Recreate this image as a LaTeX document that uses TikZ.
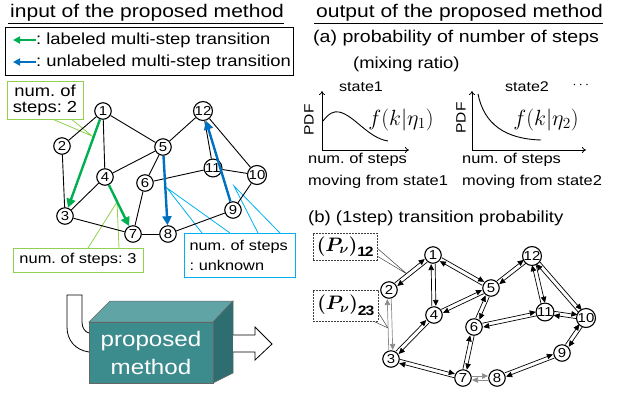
\documentclass[tikz,border=0pt]{standalone}
\usepackage{fix-cm}
\usepackage{fontspec}
\setmainfont{Liberation Sans}[FakeStretch=1.15]
\usepackage{amsmath}
\usepackage{bm}
\usetikzlibrary{arrows.meta,calc,positioning}
\definecolor{lblgreen}{RGB}{0,176,80}
\definecolor{ulbblue}{RGB}{0,112,192}
\definecolor{callgreen}{RGB}{146,208,80}
\definecolor{callblue}{RGB}{0,176,240}
\definecolor{pmfront}{RGB}{60,139,141}
\definecolor{pmtop}{RGB}{96,164,166}
\definecolor{pmside}{RGB}{46,110,112}
\newcommand{\txtsize}[1]{\fontsize{#1}{#1}\selectfont}
\frenchspacing

\begin{document}
\begin{tikzpicture}[x=1pt, y=-1pt,
    stnode/.style={circle, draw, line width=1.1pt, fill=white, inner sep=0pt, minimum size=16.5pt, font=\txtsize{13}},
    gedge/.style={line width=0.9pt},
    rail/.style={line width=0.7pt, -{Triangle[length=6pt, width=5.5pt]}},
    garrow/.style={draw=lblgreen, line width=2.4pt, -{Triangle[length=9pt, width=9pt]}},
    barrow/.style={draw=ulbblue, line width=2.4pt, -{Triangle[length=9pt, width=9pt]}},
    gcall/.style={draw=callgreen, line width=0.8pt, fill=white},
    bcall/.style={draw=callblue, line width=0.8pt, fill=white},
    pcall/.style={draw=black!75, dash pattern=on 2pt off 1pt, line width=0.6pt, fill=white},
    pdfaxis/.style={line width=0.8pt, -{To[length=4pt, width=6pt]}}
  ]
  \useasboundingbox (0,0) rectangle (618,392);

  % input of the proposed method
  \node[anchor=base west, inner sep=0pt, font=\txtsize{18.3}] (tin) at (10,17.5) {input of the proposed method};
  \draw[line width=0.9pt] ($(tin.base west)+(-2,5.5)$) -- ($(tin.base east)+(0,5.5)$);
  \draw[line width=1pt] (5,27) rectangle (293,75);
  \node[anchor=west, inner sep=0pt, font=\txtsize{16}] (lgg) at (36,40) {: labeled multi-step transition};
  \node[anchor=west, inner sep=0pt, font=\txtsize{16}] (lgb) at (36,62) {: unlabeled multi-step transition};
  \coordinate (lggend) at (13,40);
  \coordinate (lgbend) at (13,62);
  \draw[lblgreen, line width=2.2pt, -{Triangle[length=7pt, width=7pt]}] (lgg.west) -- (lggend);
  \draw[ulbblue, line width=2.2pt, -{Triangle[length=7pt, width=7pt]}] (lgb.west) -- (lgbend);

  % callouts
  \draw[callgreen, line width=0.8pt] (50,118) -- (92,136) -- (70,118);
  \node[gcall, minimum width=76pt, minimum height=35pt, align=center, font=\txtsize{16}] (cs2) at (45,100.5) {num. of\\steps: 2};
  \draw[callgreen, line width=0.8pt] (88,248) -- (117,202) -- (119,248);
  \node[gcall, minimum width=130pt, minimum height=24pt, font=\txtsize{14.3}] (cs3) at (78,260) {num. of steps: 3};
  \draw[callblue, line width=0.8pt] (202,233) -- (167,188) -- (230,233);
  \draw[callblue, line width=0.8pt] (258,233) -- (234,186) -- (280,233);
  \node[bcall, minimum width=111pt, minimum height=44pt, align=left, text width=100pt, font=\txtsize{14.2}] (csu) at (239.5,255) {num. of steps\\[5.8pt]: unknown};

  % input graph
  \node[stnode] (l1) at (103,111) {1};
  \node[stnode] (l2) at (62,146) {2};
  \node[stnode] (l3) at (65,216) {3};
  \node[stnode] (l4) at (105,177) {4};
  \node[stnode] (l5) at (163,147) {5};
  \node[stnode] (l6) at (145,183) {6};
  \node[stnode] (l7) at (133,234) {7};
  \node[stnode] (l8) at (168,234) {8};
  \node[stnode] (l9) at (233,210) {9};
  \node[stnode] (l10) at (257,175) {10};
  \node[stnode] (l11) at (213,168) {11};
  \node[stnode] (l12) at (203,111) {12};
  \foreach \a/\b in {1/2,1/4,1/5,2/3,3/4,3/7,4/5,5/6,5/12,6/7,6/11,7/8,8/9,9/10,10/11,10/12,11/12}
    \draw[gedge] (l\a) -- (l\b);
  \draw[garrow] (l1) -- (l3);
  \draw[garrow] (l4) -- (l7);
  \draw[barrow] (l5) -- (l8);
  \draw[barrow] (l9) -- (l12);

  % proposed method block
  \draw[line width=0.8pt, fill=white] (89,352) .. controls (75,350) and (67,340) .. (67,327) -- (67,295) -- (82,295) -- (82,322) .. controls (82,328) and (85,332) .. (89,333);
  \fill[pmtop, draw=black!60, line width=0.5pt] (89,322) -- (110,301) -- (233,301) -- (213,322) -- cycle;
  \fill[pmside, draw=black!60, line width=0.5pt] (213,322) -- (233,301) -- (233,373) -- (213,383) -- cycle;
  \node[draw=black!60, line width=0.5pt, fill=pmfront, minimum width=124pt, minimum height=61pt, align=center, text=white, font=\txtsize{21}] (pm) at (151,352.5) {proposed\\[7pt]method};
  \draw[line width=0.8pt, fill=white] (233,335) -- (255,335) -- (255,327) -- (272,344) -- (255,360) -- (255,352) -- (233,352);

  % output of the proposed method
  \node[anchor=base west, inner sep=0pt, font=\txtsize{18.3}] (tout) at (316,17.5) {output of the proposed method};
  \draw[line width=0.9pt] ($(tout.base west)+(-2,5.5)$) -- ($(tout.base east)+(0,5.5)$);
  \node[anchor=west, inner sep=0pt, font=\txtsize{17}] (qa) at (313,38) {(a) probability of number of steps};
  \node[anchor=west, inner sep=0pt, font=\txtsize{16}] (qmix) at (353,64) {(mixing ratio)};

  % (a) plots
  \node[font=\txtsize{14}] (st1) at (361,87) {state1};
  \node[font=\txtsize{14}] (st2) at (527,87) {state2};
  \node[font=\txtsize{14}] (stdots) at (582,85) {$\cdots$};
  \draw[pdfaxis] (322,150) -- (322,91);
  \draw[pdfaxis] (322,150) -- (409,150);
  \draw[pdfaxis] (472,150) -- (472,91);
  \draw[pdfaxis] (472,150) -- (586,150);
  \draw[line width=0.9pt] (323,121) .. controls (329,113) and (334,111) .. (339,112) .. controls (354,115) and (368,138) .. (388,141);
  \draw[line width=0.9pt] (478,94) .. controls (484,124) and (505,139) .. (541,140);
  \node[rotate=90, font=\txtsize{13.5}] (pdf1) at (309,120) {PDF};
  \node[rotate=90, font=\txtsize{13.5}] (pdf2) at (461,118) {PDF};
  \node[font=\txtsize{22}] (f1) at (401,120) {$f(k|\eta_1)$};
  \node[font=\txtsize{22}] (f2) at (546,120) {$f(k|\eta_2)$};
  \node[anchor=west, align=left, inner sep=0pt, font=\txtsize{14.3}] (xl1) at (308,171) {num. of steps\\[7.7pt]moving from state1};
  \node[anchor=west, align=left, inner sep=0pt, font=\txtsize{14.3}] (xl2) at (462,171) {num. of steps\\[7.7pt]moving from state2};

  % (b) transition probability
  \node[anchor=west, inner sep=0pt, font=\txtsize{16.1}] (qb) at (308,218) {(b) (1step) transition probability};
  \draw[black!75, line width=0.5pt] (377,248) -- (407,274) -- (377,256);
  \node[pcall, minimum width=64pt, minimum height=27pt, inner sep=1pt, font=\txtsize{19.5}] (p12) at (345,246.5) {$\bm{(}\bm{P}_{\bm{\nu}}\bm{)}_{\mathbf{12}}$};
  \draw[black!75, line width=0.5pt] (378,312) -- (388,328) -- (373,321);
  \node[pcall, minimum width=65pt, minimum height=31pt, inner sep=1pt, font=\txtsize{19.5}] (p23) at (345.5,305.5) {$\bm{(}\bm{P}_{\bm{\nu}}\bm{)}_{\mathbf{23}}$};
  \node[stnode] (r1) at (433,255) {1};
  \node[stnode] (r2) at (389,290) {2};
  \node[stnode] (r3) at (391,359) {3};
  \node[stnode] (r4) at (434,315) {4};
  \node[stnode] (r5) at (491,288) {5};
  \node[stnode] (r6) at (474,327) {6};
  \node[stnode] (r7) at (463,378) {7};
  \node[stnode] (r8) at (497,378) {8};
  \node[stnode] (r9) at (562,353) {9};
  \node[stnode] (r10) at (586,318) {10};
  \node[stnode] (r11) at (545,312) {11};
  \node[stnode] (r12) at (532,256) {12};
  \foreach \a/\b/\c in {1/2/black,1/4/black,1/5/black,2/3/black!45,3/4/black,3/7/black,4/5/black,5/6/black,5/12/black,6/7/black,6/11/black,7/8/black!45,8/9/black,9/10/black,10/11/black,10/12/black,11/12/black}{
    \path ($(r\a)!9pt!(r\b)$) coordinate (ra) ($(r\b)!9pt!(r\a)$) coordinate (rb);
    \draw[rail, \c] ($(ra)!2pt!90:(rb)$) -- ($(rb)!2pt!-90:(ra)$);
    \draw[rail, \c] ($(rb)!2pt!90:(ra)$) -- ($(ra)!2pt!-90:(rb)$);
  }
\end{tikzpicture}
\end{document}
